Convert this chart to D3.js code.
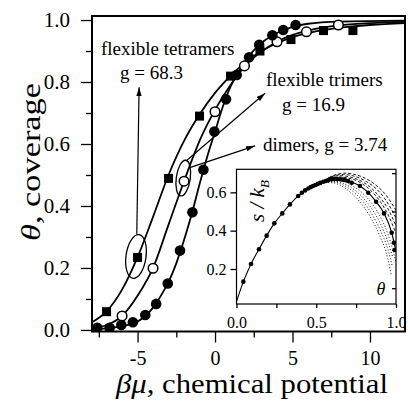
<!DOCTYPE html>
<html>
<head>
<meta charset="utf-8">
<script src="https://cdn.jsdelivr.net/npm/d3@7"></script>
<style>
body { margin: 0; background: #fff; }
svg { display: block; }
text { font-family: "Liberation Serif", "Times New Roman", serif; fill: #000; }
</style>
</head>
<body>
<div id="chart"></div>
<script>
// main axes ticks
const xTicks = [-5, 0, 5, 10];
const xMinor = [-7.5, -2.5, 2.5, 7.5];
const yTicks = [0, 0.2, 0.4, 0.6, 0.8, 1.0];
const yMinor = [0.1, 0.3, 0.5, 0.7, 0.9];

// simulation points [beta mu, theta]
const dimerPts = [[-7.6,0.007],[-6.8,0.007],[-6.05,0.016],[-5.3,0.025],[-4.5,0.048],[-3.8,0.084],[-3.05,0.15],
  [-2.26,0.256],[-1.46,0.38],[-0.75,0.517],[-0.04,0.64],[0.71,0.744],[1.4,0.823],[2.2,0.88],[2.85,0.92],
  [3.7,0.951],[4.4,0.968],[5.2,0.984]];
const trimerPts = [[-6.0,0.045],[-4.0,0.199],[-2.0,0.48],[0.0,0.704],[1.9,0.852],[4.0,0.93],[5.9,0.962],[7.96,0.984]];
const tetramerPts = [[-7.0,0.059],[-5.0,0.234],[-3.0,0.489],[-1.0,0.69],[1.0,0.819],[2.9,0.9],[4.9,0.937],[7.0,0.966],[8.9,0.966]];

// theory curves
const dimerCurve = [[-7.94,0.003],[-7,0.005],[-6,0.012],[-5,0.027],[-4.5,0.045],[-4,0.072],[-3.5,0.11],[-3,0.155],
  [-2.5,0.215],[-2,0.29],[-1.5,0.375],[-1,0.47],[-0.5,0.56],[0,0.64],[0.5,0.72],[1,0.785],[1.5,0.832],
  [2,0.872],[2.5,0.902],[3,0.926],[4,0.958],[5,0.978],[6,0.988],[8,0.995],[12.26,0.998]];
const trimerCurve = [[-7.94,0.006],[-7,0.016],[-6,0.045],[-5,0.11],[-4,0.2],[-3,0.34],[-2,0.48],[-1,0.61],
  [0,0.71],[1,0.79],[2,0.855],[3,0.898],[4,0.93],[5,0.952],[6,0.966],[7,0.976],[8,0.983],[10,0.99],[12.26,0.994]];
const tetramerCurve = [[-7.94,0.025],[-7,0.06],[-6,0.13],[-5,0.235],[-4,0.365],[-3,0.5],[-2,0.61],[-1,0.695],
  [0,0.765],[1,0.82],[2,0.865],[3,0.9],[4,0.925],[5,0.945],[6,0.958],[7,0.968],[8,0.975],[10,0.984],[12.26,0.99]];

// inset: entropy per site vs coverage
const insetXTicks = [0, 0.5, 1.0];
const insetXMinor = [0.25, 0.75];
const insetYTicks = [0.2, 0.4, 0.6];
const insetYRight = [0.1, 0.3, 0.5, 0.7];
const entropyPts = [[0.043,0.134],[0.091,0.226],[0.141,0.303],[0.189,0.374],[0.237,0.438],[0.287,0.49],
  [0.335,0.537],[0.387,0.581],[0.41,0.598],[0.43,0.61],[0.45,0.62],[0.465,0.627],[0.48,0.633],[0.495,0.638],
  [0.51,0.644],[0.525,0.649],[0.544,0.655],[0.56,0.659],[0.575,0.663],[0.586,0.668],[0.6,0.668],[0.615,0.669],
  [0.63,0.669],[0.649,0.668],[0.665,0.666],[0.68,0.664],[0.7,0.659],[0.722,0.65],[0.774,0.633],[0.826,0.598],
  [0.875,0.551],[0.925,0.49],[0.973,0.389],[0.987,0.337],[0.993,0.299]];
const entropyCurve = [[0,0.03],[0.043,0.134],[0.091,0.226],[0.141,0.303],[0.189,0.374],[0.237,0.438],
  [0.287,0.49],[0.335,0.537],[0.387,0.581],[0.45,0.62],[0.51,0.644],[0.56,0.659],[0.6,0.668],[0.649,0.668],
  [0.7,0.659],[0.774,0.633],[0.826,0.598],[0.875,0.551],[0.925,0.49],[0.973,0.389],[1.0,0.29]];
const dashedCurves = [
  [[0.55,0.662],[0.6,0.677],[0.65,0.68],[0.7,0.674],[0.75,0.662],[0.8,0.638],[0.85,0.603],[0.9,0.553],[0.95,0.483],[1.0,0.385]],
  [[0.56,0.667],[0.6,0.682],[0.65,0.687],[0.7,0.682],[0.75,0.67],[0.8,0.65],[0.85,0.618],[0.9,0.573],[0.95,0.513],[1.0,0.425]],
  [[0.57,0.672],[0.62,0.688],[0.67,0.693],[0.72,0.688],[0.77,0.675],[0.82,0.653],[0.87,0.623],[0.92,0.578],[0.97,0.513],[1.0,0.465]],
  [[0.58,0.677],[0.63,0.694],[0.68,0.7],[0.73,0.695],[0.78,0.683],[0.83,0.663],[0.88,0.633],[0.93,0.593],[0.98,0.533],[1.0,0.505]]
];
const dottedCurves = [
  [[0.5,0.648],[0.55,0.66],[0.6,0.664],[0.65,0.66],[0.7,0.646],[0.75,0.622],[0.8,0.588],[0.85,0.54],[0.9,0.475],[0.95,0.38],[0.98,0.3],[1.0,0.235]],
  [[0.5,0.647],[0.55,0.657],[0.6,0.659],[0.65,0.652],[0.7,0.634],[0.75,0.606],[0.8,0.566],[0.85,0.512],[0.9,0.44],[0.95,0.34],[0.98,0.26]],
  [[0.5,0.646],[0.55,0.654],[0.6,0.655],[0.65,0.645],[0.7,0.623],[0.75,0.59],[0.8,0.545],[0.85,0.485],[0.9,0.405],[0.95,0.3],[0.975,0.22]],
  [[0.5,0.645],[0.55,0.651],[0.6,0.65],[0.65,0.637],[0.7,0.61],[0.75,0.572],[0.8,0.522],[0.85,0.455],[0.9,0.37],[0.95,0.25],[0.97,0.17]]
];

const w = 408, h = 414;

const svg = d3.select("#chart").append("svg")
    .attr("width", w)
    .attr("height", h);

svg.append("rect").attr("width", w).attr("height", h).attr("fill", "#fff");

const x = d3.scaleLinear().domain([-7.94, 12.26]).range([92, 405]);
const y = d3.scaleLinear().domain([-0.005, 1.013]).range([331.5, 16]);

const defs = svg.append("defs");
defs.append("clipPath").attr("id", "plotClip")
  .append("rect").attr("x", 92).attr("y", 16).attr("width", 313).attr("height", 315.5);

const arrow = defs.append("marker")
    .attr("id", "arrowHead")
    .attr("viewBox", "0 0 10 6")
    .attr("refX", 10).attr("refY", 3)
    .attr("markerWidth", 9).attr("markerHeight", 5.5)
    .attr("markerUnits", "userSpaceOnUse")
    .attr("orient", "auto");
arrow.append("path").attr("d", "M0,0 L10,3 L0,6 Z").attr("fill", "#000");

function styleAxis(g, size) {
  g.select(".domain").remove();
  g.selectAll("line").attr("stroke", "#000").attr("stroke-width", 1.5);
  g.selectAll("text").style("font-size", size + "px").attr("fill", "#000");
}

// main axes
svg.append("g").attr("transform", "translate(0,331.5)")
  .call(d3.axisBottom(x).tickValues(xTicks).tickSize(11).tickPadding(8).tickSizeOuter(0).tickFormat(d => d))
  .call(g => styleAxis(g, 20));
svg.append("g").attr("transform", "translate(0,331.5)")
  .call(d3.axisBottom(x).tickValues(xMinor).tickSize(6).tickSizeOuter(0).tickFormat(""))
  .call(g => styleAxis(g, 20));
svg.append("g").attr("transform", "translate(92,0)")
  .call(d3.axisLeft(y).tickValues(yTicks).tickSize(11).tickPadding(11).tickSizeOuter(0).tickFormat(d3.format(".1f")))
  .call(g => styleAxis(g, 21));
svg.append("g").attr("transform", "translate(92,0)")
  .call(d3.axisLeft(y).tickValues(yMinor).tickSize(6).tickSizeOuter(0).tickFormat(""))
  .call(g => styleAxis(g, 21));

// axis titles
svg.append("text")
  .attr("transform", "translate(40,162) rotate(-90)")
  .attr("text-anchor", "middle")
  .attr("textLength", 158).attr("lengthAdjust", "spacingAndGlyphs")
  .style("font-size", "28px")
  .html('<tspan font-style="italic">θ</tspan>, coverage');

svg.append("text")
  .attr("x", 252).attr("y", 393)
  .attr("text-anchor", "middle")
  .attr("textLength", 272).attr("lengthAdjust", "spacingAndGlyphs")
  .style("font-size", "27px")
  .html('<tspan font-style="italic">βμ</tspan>, chemical potential');

// curves
const line = d3.line().x(d => x(d[0])).y(d => y(d[1])).curve(d3.curveMonotoneX);
const plot = svg.append("g").attr("clip-path", "url(#plotClip)");
[dimerCurve, trimerCurve, tetramerCurve].forEach(c => {
  plot.append("path").attr("d", line(c))
    .attr("fill", "none").attr("stroke", "#000").attr("stroke-width", 1.8);
});

// markers
plot.selectAll(".sq").data(tetramerPts).enter().append("rect")
  .attr("class", "sq")
  .attr("x", d => x(d[0]) - 4.5).attr("y", d => y(d[1]) - 4.5)
  .attr("width", 9).attr("height", 9).attr("fill", "#000");
plot.selectAll(".oc").data(trimerPts).enter().append("circle")
  .attr("class", "oc")
  .attr("cx", d => x(d[0])).attr("cy", d => y(d[1])).attr("r", 4.8)
  .attr("fill", "#fff").attr("stroke", "#000").attr("stroke-width", 1.5);
plot.selectAll(".fc").data(dimerPts).enter().append("circle")
  .attr("class", "fc")
  .attr("cx", d => x(d[0])).attr("cy", d => y(d[1])).attr("r", 5.3)
  .attr("fill", "#000");

// ellipses and arrows
svg.append("ellipse")
  .attr("cx", x(-5.1)).attr("cy", y(0.237)).attr("rx", 10).attr("ry", 22)
  .attr("transform", `rotate(8,${x(-5.1)},${y(0.237)})`)
  .attr("fill", "none").attr("stroke", "#000").attr("stroke-width", 1.3);
svg.append("ellipse")
  .attr("cx", x(-2.05)).attr("cy", y(0.49)).attr("rx", 7).attr("ry", 18)
  .attr("transform", `rotate(8,${x(-2.05)},${y(0.49)})`)
  .attr("fill", "none").attr("stroke", "#000").attr("stroke-width", 1.3);

const arrows = [
  [[-5.05, 0.31], [-4.9, 0.783]],
  [[-1.87, 0.545], [3.23, 0.764]],
  [[-1.68, 0.523], [2.58, 0.594]]
];
arrows.forEach(a => {
  svg.append("line")
    .attr("x1", x(a[0][0])).attr("y1", y(a[0][1]))
    .attr("x2", x(a[1][0])).attr("y2", y(a[1][1]))
    .attr("stroke", "#000").attr("stroke-width", 1.2)
    .attr("marker-end", "url(#arrowHead)");
});

// annotation labels
const notes = [
  ["flexible tetramers", 101, 55],
  ["g = 68.3", 120, 79],
  ["flexible trimers", 266, 86],
  ["g = 16.9", 282, 111],
  ["dimers, g = 3.74", 263, 151]
];
svg.selectAll(".note").data(notes).enter().append("text")
  .attr("class", "note")
  .attr("x", d => d[1]).attr("y", d => d[2])
  .style("font-size", "19px")
  .text(d => d[0]);

// frame
svg.append("rect").attr("x", 92).attr("y", 16).attr("width", 313).attr("height", 315.5)
  .attr("fill", "none").attr("stroke", "#000").attr("stroke-width", 2);

// ---- inset ----
const ix = d3.scaleLinear().domain([0, 1]).range([236.5, 396]);
const iy = d3.scaleLinear().domain([0.0175, 0.72]).range([304, 169.3]);

svg.append("rect").attr("x", 236.5).attr("y", 169.3).attr("width", 159.5).attr("height", 134.7)
  .attr("fill", "#fff");

defs.append("clipPath").attr("id", "insetClip")
  .append("rect").attr("x", 236.5).attr("y", 169.3).attr("width", 159.5).attr("height", 134.7);

const inset = svg.append("g").attr("clip-path", "url(#insetClip)");
const iline = d3.line().x(d => ix(d[0])).y(d => iy(d[1])).curve(d3.curveMonotoneX);

dashedCurves.forEach(c => {
  inset.append("path").attr("d", iline(c)).attr("fill", "none")
    .attr("stroke", "#000").attr("stroke-width", 0.9).attr("stroke-dasharray", "3,2");
});
dottedCurves.forEach(c => {
  inset.append("path").attr("d", iline(c)).attr("fill", "none")
    .attr("stroke", "#000").attr("stroke-width", 0.9).attr("stroke-dasharray", "1,2");
});
inset.append("path").attr("d", iline(entropyCurve)).attr("fill", "none")
  .attr("stroke", "#000").attr("stroke-width", 1.1);
inset.selectAll(".ed").data(entropyPts).enter().append("circle")
  .attr("class", "ed")
  .attr("cx", d => ix(d[0])).attr("cy", d => iy(d[1])).attr("r", 2.3).attr("fill", "#000");

svg.append("g").attr("transform", "translate(0,304)")
  .call(d3.axisBottom(ix).tickValues(insetXTicks).tickSize(4).tickPadding(9).tickSizeOuter(0).tickFormat(d3.format(".1f")))
  .call(g => styleAxis(g, 16));
svg.append("g").attr("transform", "translate(0,304)")
  .call(d3.axisBottom(ix).tickValues(insetXMinor).tickSize(4).tickSizeOuter(0).tickFormat(""))
  .call(g => styleAxis(g, 16));
svg.append("g").attr("transform", "translate(236.5,0)")
  .call(d3.axisLeft(iy).tickValues(insetYTicks).tickSize(6).tickPadding(4).tickSizeOuter(0).tickFormat(d3.format(".1f")))
  .call(g => styleAxis(g, 16));
svg.append("g").attr("transform", "translate(396,0)")
  .call(d3.axisLeft(iy).tickValues(insetYRight).tickSize(4).tickSizeOuter(0).tickFormat(""))
  .call(g => styleAxis(g, 16));
svg.selectAll("g line").attr("stroke-width", 1.3);

svg.append("rect").attr("x", 236.5).attr("y", 169.3).attr("width", 159.5).attr("height", 134.7)
  .attr("fill", "none").attr("stroke", "#000").attr("stroke-width", 1.2);

svg.append("text")
  .attr("transform", "translate(264,201) rotate(-90)")
  .attr("text-anchor", "middle")
  .style("font-size", "21px").style("font-style", "italic")
  .html('s / k<tspan dy="5" style="font-size:13px">B</tspan>');

svg.append("text")
  .attr("x", 381).attr("y", 295)
  .attr("text-anchor", "middle")
  .style("font-size", "18px").style("font-style", "italic")
  .text("θ");
</script>
</body>
</html>
